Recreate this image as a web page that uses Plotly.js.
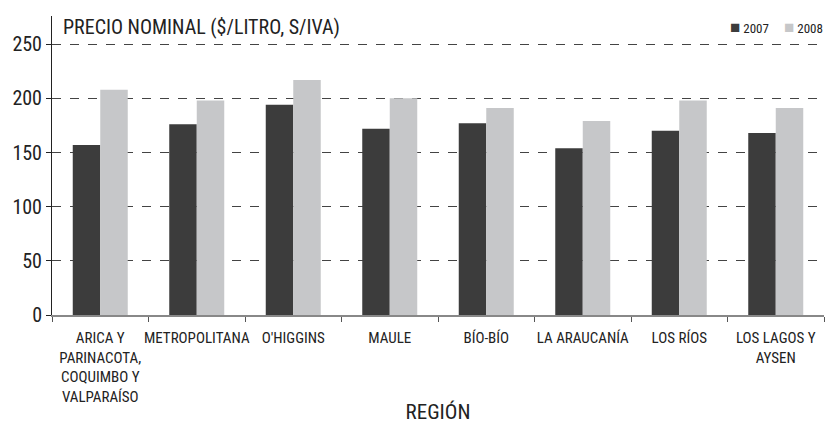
<!DOCTYPE html>
<html>
<head>
<meta charset="utf-8">
<script src="https://cdn.plot.ly/plotly-3.0.1.min.js"></script>
<style>html,body{margin:0;padding:0;background:#fff;}#chart{width:825px;height:442px;}</style>
</head>
<body>
<div id="chart"></div>
<script>
const categories = [
  "ARICA Y<br>PARINACOTA,<br>COQUIMBO Y<br>VALPARAÍSO",
  "METROPOLITANA",
  "O'HIGGINS",
  "MAULE",
  "BÍO-BÍO",
  "LA ARAUCANÍA",
  "LOS RÍOS",
  "LOS LAGOS Y<br>AYSEN"
];
const seriesNames = ['2007', '2008'];
const values2007 = [157, 176, 194, 172, 177, 154, 170, 168];
const values2008 = [208, 198, 217, 200, 191, 179, 198, 191];
const yTicks = [0, 50, 100, 150, 200, 250];
const colors = ['#3c3c3c', '#c6c7c9'];

const FONT = "'Liberation Sans Narrow', 'Arial Narrow', 'Roboto Condensed', 'Liberation Sans', sans-serif";

const legendX = [0.876, 0.945];
const legendAnn = seriesNames.map((n, i) => ({
  xref: 'paper', yref: 'paper', x: legendX[i], y: 0.963,
  xanchor: 'left', yanchor: 'middle', showarrow: false,
  text: "<span style='color:" + colors[i] + ";font-size:17px'>■</span> " + n,
  font: {size: 13, family: FONT, color: '#222'}
}));

const data = [
  {type: 'bar', name: seriesNames[0], x: categories, y: values2007, marker: {color: colors[0]}},
  {type: 'bar', name: seriesNames[1], x: categories, y: values2008, marker: {color: colors[1]}}
];

const layout = {
  width: 825, height: 442,
  margin: {l: 52, r: 1, t: 16, b: 127},
  paper_bgcolor: '#fff', plot_bgcolor: '#fff',
  font: {family: FONT, color: '#222'},
  barmode: 'group', bargap: 0.43, bargroupgap: 0,
  showlegend: false,
  annotations: legendAnn,
  title: {text: 'PRECIO NOMINAL ($/LITRO, S/IVA)', x: 63/825, xanchor: 'left', xref: 'container',
          y: 1 - 27/442, yref: 'container', yanchor: 'middle', font: {size: 20, family: FONT, color: '#222', weight: 'normal'}},
  xaxis: {
    type: 'category',
    showline: true, linecolor: '#888', linewidth: 2,
    ticks: 'outside', tickcolor: '#555', ticklen: 5, tickson: 'boundaries',
    showgrid: false,
    tickangle: 0,
    ticklabelstandoff: 8,
    tickfont: {size: 15, family: FONT, color: '#222'},
    title: {text: 'REGIÓN', font: {size: 21, family: FONT, color: '#222'}, standoff: 0},
    automargin: false
  },
  yaxis: {
    range: [0, 276],
    tickvals: yTicks, ticktext: yTicks.map(String),
    showline: true, linecolor: '#222', linewidth: 1,
    ticks: 'outside', tickcolor: '#222', ticklen: 5,
    showgrid: true, gridcolor: '#444', griddash: 'dash', gridwidth: 1,
    zeroline: false,
    tickfont: {size: 20, family: FONT, color: '#222'},
    automargin: false
  }
};

Plotly.newPlot('chart', data, layout, {displayModeBar: false, staticPlot: true});
</script>
</body>
</html>
